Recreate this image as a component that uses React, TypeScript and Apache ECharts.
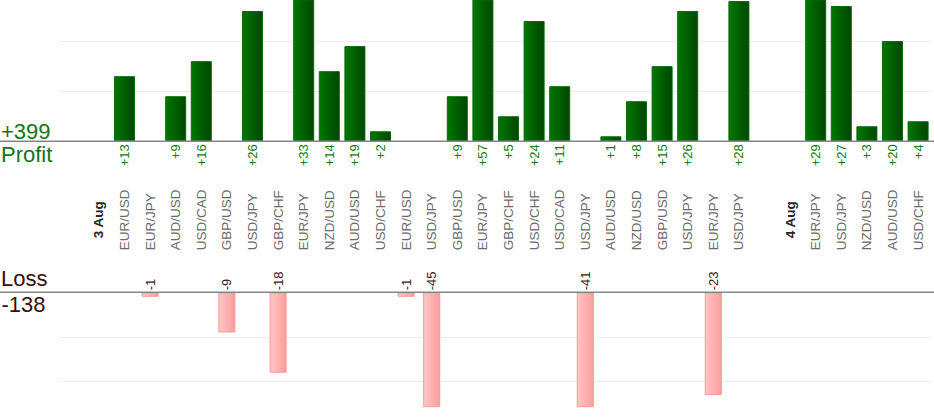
import React, { useEffect, useRef } from "react";
import * as echarts from "echarts";

const categories: string[] = [
  "", "3 Aug", "EUR/USD", "EUR/JPY", "AUD/USD", "USD/CAD", "GBP/USD", "USD/JPY", "GBP/CHF",
  "EUR/JPY", "NZD/USD", "AUD/USD", "USD/CHF", "EUR/USD", "USD/JPY", "GBP/USD", "EUR/JPY",
  "GBP/CHF", "USD/CHF", "USD/CAD", "USD/JPY", "AUD/USD", "NZD/USD", "GBP/USD", "USD/JPY",
  "EUR/JPY", "USD/JPY", "", "4 Aug", "EUR/JPY", "USD/JPY", "NZD/USD", "AUD/USD", "USD/CHF",
];

const dateLabels: string[] = ["3 Aug", "4 Aug"];

const profitValues: (number | null)[] = [
  null, null, 13, null, 9, 16, null, 26, null, 33, 14, 19, 2, null, null, 9, 57, 5, 24, 11,
  null, 1, 8, 15, 26, null, 28, null, null, 29, 27, 3, 20, 4,
];

const lossValues: (number | null)[] = [
  null, null, null, -1, null, null, -9, null, -18, null, null, null, null, -1, -45, null, null,
  null, null, null, -41, null, null, null, null, -23, null, null, null, null, null, null, null, null,
];

const profitAxisMax = 28.2;
const lossAxisMin = -25.6;

const FONT = "'Liberation Sans', Arial, Helvetica, sans-serif";

export default function App() {
  const ref = useRef<HTMLDivElement>(null);

  useEffect(() => {
    document.body.style.margin = "0";
    if (!ref.current) return;
    const chart = echarts.init(ref.current, undefined, { renderer: "svg" });

    const totalProfit = profitValues.reduce((s: number, v) => s + (v ?? 0), 0);
    const totalLoss = lossValues.reduce((s: number, v) => s + (v ?? 0), 0);

    const profitTop = 0;
    const profitHeight = 141.3;
    const lossTop = 292.3;
    const lossHeight = 114.4;

    const bigText = (text: string, x: number, y: number, fill: string) => ({
      type: "text",
      x,
      y,
      style: {
        text,
        fontSize: 22,
        fontFamily: FONT,
        fill,
        textAlign: "left",
        textVerticalAlign: "middle",
      },
    });

    const option: any = {
      animation: false,
      backgroundColor: "#ffffff",
      textStyle: { fontFamily: FONT },
      grid: [
        { left: 60.5, right: 3.1, top: profitTop, height: profitHeight, containLabel: false },
        { left: 60.5, right: 3.1, top: lossTop, height: lossHeight, containLabel: false },
      ],
      xAxis: [
        {
          type: "category",
          gridIndex: 0,
          data: categories,
          axisLine: { show: false },
          axisTick: { show: false },
          axisLabel: { show: false },
          splitLine: { show: false },
        },
        {
          type: "category",
          gridIndex: 1,
          position: "top",
          data: categories,
          axisLine: { show: false },
          axisTick: { show: false },
          splitLine: { show: false },
          axisLabel: {
            show: true,
            interval: 0,
            rotate: 90,
            margin: 42,
            fontSize: 13.5,
            color: "#6a6a6a",
            fontFamily: FONT,
            formatter: (v: string) => (dateLabels.includes(v) ? `{d|${v}}` : v),
            rich: {
              d: {
                fontWeight: "bold",
                fontSize: 13.5,
                color: "#262626",
                fontFamily: FONT,
                padding: [0, 0, 0, 12],
              },
            },
          },
        },
      ],
      yAxis: [
        {
          type: "value",
          gridIndex: 0,
          min: 0,
          max: profitAxisMax,
          splitNumber: 3,
          minInterval: 10,
          maxInterval: 10,
          axisLine: { show: false },
          axisTick: { show: false },
          axisLabel: { show: false },
          splitLine: {
            show: true,
            showMinLine: false,
            showMaxLine: false,
            lineStyle: { color: "#ececec", width: 1 },
          },
        },
        {
          type: "value",
          gridIndex: 1,
          min: lossAxisMin,
          max: 0,
          splitNumber: 3,
          minInterval: 10,
          maxInterval: 10,
          axisLine: { show: false },
          axisTick: { show: false },
          axisLabel: { show: false },
          splitLine: {
            show: true,
            showMinLine: false,
            showMaxLine: false,
            lineStyle: { color: "#ececec", width: 1 },
          },
        },
      ],
      series: [
        {
          type: "bar",
          name: "Profit",
          xAxisIndex: 0,
          yAxisIndex: 0,
          data: profitValues,
          barWidth: 21,
          clip: true,
          itemStyle: {
            color: new echarts.graphic.LinearGradient(0, 0, 1, 0, [
              { offset: 0, color: "#007800" },
              { offset: 1, color: "#004600" },
            ]),
            borderColor: "#086a08",
            borderWidth: 1,
          },
          label: {
            show: true,
            position: "bottom",
            distance: 3,
            rotate: 90,
            align: "right",
            verticalAlign: "middle",
            fontSize: 13,
            color: "#0f7a0f",
            fontFamily: FONT,
            formatter: (p: any) => `+${p.value}`,
          },
        },
        {
          type: "bar",
          name: "Loss",
          xAxisIndex: 1,
          yAxisIndex: 1,
          data: lossValues,
          barWidth: 17,
          clip: true,
          itemStyle: {
            color: new echarts.graphic.LinearGradient(0, 0, 1, 0, [
              { offset: 0, color: "#ffc6c6" },
              { offset: 1, color: "#ff9c9c" },
            ]),
            borderColor: "#ff9898",
            borderWidth: 1,
          },
          label: {
            show: true,
            position: "top",
            distance: 2,
            rotate: 90,
            align: "left",
            verticalAlign: "middle",
            fontSize: 13,
            color: "#3a1414",
            fontFamily: FONT,
            formatter: (p: any) => `${p.value}`,
          },
        },
      ],
      graphic: [
        {
          type: "line",
          z: 100,
          shape: { x1: 0, y1: profitTop + profitHeight, x2: 934, y2: profitTop + profitHeight },
          style: { stroke: "#858585", lineWidth: 1.5 },
        },
        {
          type: "line",
          z: 100,
          shape: { x1: 0, y1: lossTop, x2: 934, y2: lossTop },
          style: { stroke: "#858585", lineWidth: 1.5 },
        },
        bigText(`+${totalProfit}`, 1, 131.5, "#137513"),
        bigText("Profit", 1, 154.5, "#137513"),
        bigText("Loss", 1, 278.5, "#3b0c0c"),
        bigText(`${totalLoss}`, 1.5, 304.5, "#3b0c0c"),
      ],
    };

    chart.setOption(option);
    return () => {
      chart.dispose();
    };
  }, []);

  return (
    <div
      ref={ref}
      style={{ position: "absolute", left: 0, top: 0, width: 934, height: 420 }}
    />
  );
}
